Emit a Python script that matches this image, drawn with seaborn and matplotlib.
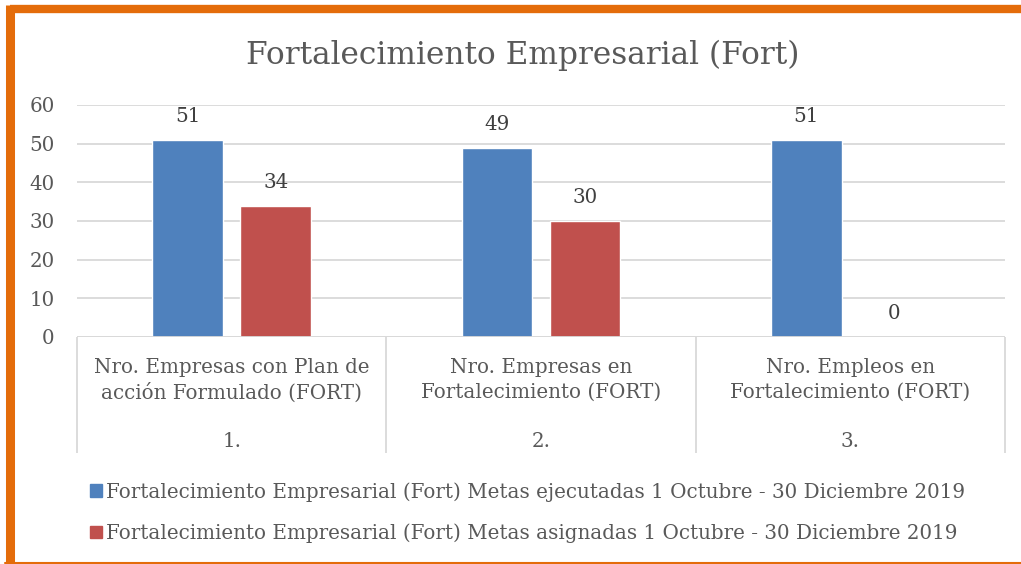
import pandas as pd
import matplotlib.pyplot as plt
import seaborn as sns
from matplotlib.lines import Line2D
from matplotlib.patches import Patch

# data
categorias = ["Nro. Empresas con Plan de\nacción Formulado (FORT)",
              "Nro. Empresas en\nFortalecimiento (FORT)",
              "Nro. Empleos en\nFortalecimiento (FORT)"]
numeros = ["1.", "2.", "3."]
serie_ejecutadas = [51, 49, 51]
serie_asignadas = [34, 30, 0]
nombre_ejec = "Fortalecimiento Empresarial (Fort) Metas ejecutadas 1 Octubre - 30 Diciembre 2019"
nombre_asig = "Fortalecimiento Empresarial (Fort) Metas asignadas 1 Octubre - 30 Diciembre 2019"
yticks = [0, 10, 20, 30, 40, 50, 60]

df = pd.DataFrame({
    "cat": categorias * 2,
    "valor": serie_ejecutadas + serie_asignadas,
    "serie": [nombre_ejec] * 3 + [nombre_asig] * 3,
})

sns.set_theme(style="white")
plt.rcParams['font.family'] = ['DejaVu Serif']
gris = "#595959"
colores = ["#4F81BD", "#C0504D"]
fs = 14.3

W, H = 1021, 564
fig = plt.figure(figsize=(W / 100, H / 100), dpi=100)
ax = fig.add_axes([77 / W, 1 - 337 / H, (1005 - 77) / W, (337 - 105) / H])

sns.barplot(data=df, x="cat", y="valor", hue="serie", palette=colores,
            width=0.57, gap=0.2, ax=ax, legend=False, saturation=1)

for c in ax.containers:
    ax.bar_label(c, padding=10, fontsize=fs, color="#404040")

ax.set_xlim(-0.5, 2.5)
ax.set_ylim(0, 60)
ax.set_yticks(yticks)
ax.yaxis.grid(True, color="#D9D9D9", lw=1.3)
ax.set_axisbelow(True)
for s in ax.spines.values():
    s.set_visible(False)
ax.tick_params(axis="y", length=0, pad=16, labelsize=fs, labelcolor=gris)
ax.set_xticks([])
ax.set_xlabel("")
ax.set_ylabel("")
ax.axhline(0, color="#D9D9D9", lw=1.3)

# category boxes below the axis
xt = ax.get_xaxis_transform()
ax.vlines([-0.5, 0.5, 1.5, 2.5], -(453 - 337) / 232, 0, transform=xt,
          colors="#D9D9D9", lw=1.3, clip_on=False)
for i, (cat, n) in enumerate(zip(categorias, numeros)):
    ax.text(i, -(380 - 337) / 232, cat, transform=xt, ha="center", va="center",
            fontsize=fs, color=gris, linespacing=1.35)
    ax.text(i, -(442 - 337) / 232, n, transform=xt, ha="center", va="center",
            fontsize=fs, color=gris)

fig.text(523 / W, 1 - 55 / H, "Fortalecimiento Empresarial (Fort)",
         ha="center", va="center", fontsize=22.5, color=gris)

handles = [Patch(color=colores[0]), Patch(color=colores[1])]
fig.legend(handles, [nombre_ejec, nombre_asig], loc="upper left",
           bbox_to_anchor=(80 / W, 1 - 472 / H), frameon=False,
           fontsize=fs, labelcolor=gris, handlelength=0.6, handleheight=0.6,
           handletextpad=0.2, labelspacing=1.1, borderpad=0)

# orange frame
naranja = "#E46C0A"
fig.add_artist(Line2D([9.5 / W, 1.0], [1 - 9 / H, 1 - 9 / H], color=naranja, lw=6, solid_capstyle="butt"))
fig.add_artist(Line2D([9.5 / W, 9.5 / W], [1 - 5 / H, 0.0], color=naranja, lw=6.5, solid_capstyle="butt"))
fig.add_artist(Line2D([5 / W, 1.0], [1 - 562.5 / H, 1 - 562.5 / H], color=naranja, lw=1.5))

fig.savefig("out.png", dpi=100)
